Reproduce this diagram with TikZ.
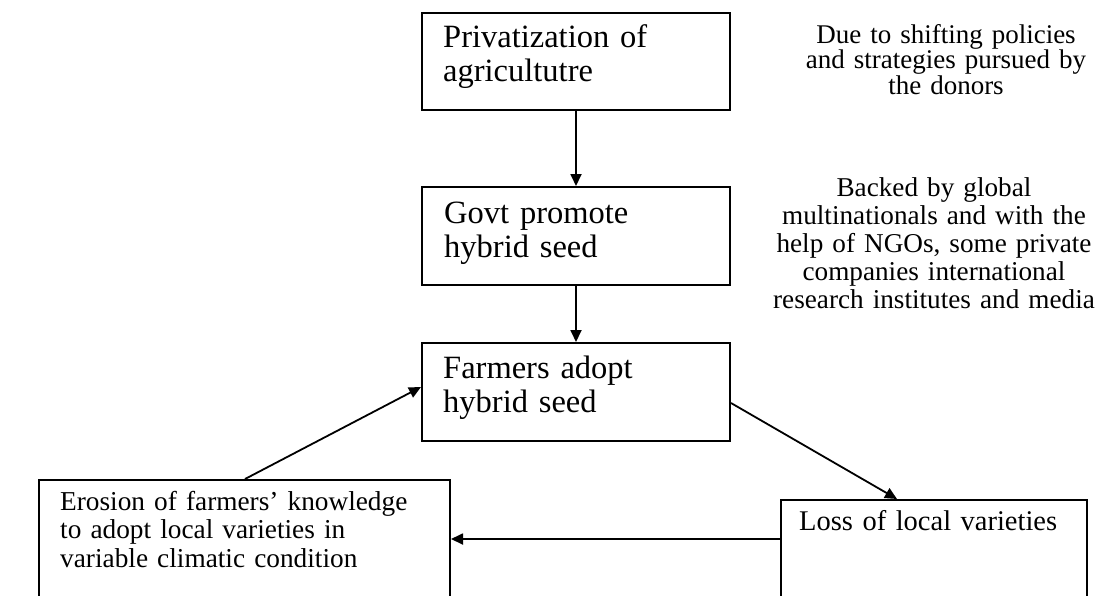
\documentclass[tikz,border=0pt]{standalone}
\usepackage{fontspec}
\setmainfont{Liberation Serif}
\usetikzlibrary{arrows.meta}
\begin{document}
\begin{tikzpicture}[x=1pt,y=-1pt,
  box/.style={draw,line width=2pt,inner sep=0pt,anchor=north west},
  boxtext/.style={inner sep=0pt,anchor=base west,align=left,font=\fontsize{32.5}{34}\selectfont},
  smalltext/.style={inner sep=0pt,anchor=base west,align=left,font=\fontsize{27.3}{28.5}\selectfont},
  note/.style={inner sep=0pt,anchor=base,align=center,text width=330pt},
  conn/.style={line width=1.8pt,-{Triangle[length=12pt,width=11pt]}}]
\useasboundingbox (0,0) rectangle (1107,595);
\clip (0,0) rectangle (1107,595);
% boxes
\node[box,minimum width=308pt,minimum height=97pt] (b1) at (421,12) {};
\node[box,minimum width=308pt,minimum height=98pt] (b2) at (421,186) {};
\node[box,minimum width=308pt,minimum height=98pt] (b3) at (421,342) {};
\node[box,minimum width=411pt,minimum height=141pt] (b4) at (38,479) {};
\node[box,minimum width=306pt,minimum height=121pt] (b5) at (780,499) {};
% box texts
\node[boxtext,text width=280pt] (t1) at (443,47) {Privatization of\\agricultutre};
\node[boxtext,text width=280pt] (t2) at (444,223) {Govt promote\\hybrid seed};
\node[boxtext,text width=280pt] (t3) at (443,378) {Farmers adopt\\hybrid seed};
\node[smalltext,text width=390pt] (t4) at (60,510) {Erosion of farmers’ knowledge\\to adopt local varieties in\\variable climatic condition};
\node[smalltext,text width=290pt,font=\fontsize{28.5}{30}\selectfont] (t5) at (799,530) {Loss of local varieties};
% side notes
\node[note,font=\fontsize{27}{25.5}\selectfont] (n1) at (946,43) {Due to shifting policies\\and strategies pursued by\\the donors};
\node[note,font=\fontsize{27.2}{28.2}\selectfont] (n2) at (934,196) {Backed by global\\multinationals and with the\\help of NGOs, some private\\companies international\\research institutes and media};
% connectors
\draw[conn] (b1.south) -- (b2.north);
\draw[conn] (b2.south) -- (b3.north);
\draw[conn] ([yshift=-11pt]b3.east) -- ([xshift=117pt]b5.north west);
\draw[conn] ([yshift=-40pt]b5.north west) -- ([yshift=-40pt]b5.north west -| b4.east);
\draw[conn] ([xshift=207pt]b4.north west) -- ([yshift=5pt]b3.west);
\end{tikzpicture}
\end{document}
